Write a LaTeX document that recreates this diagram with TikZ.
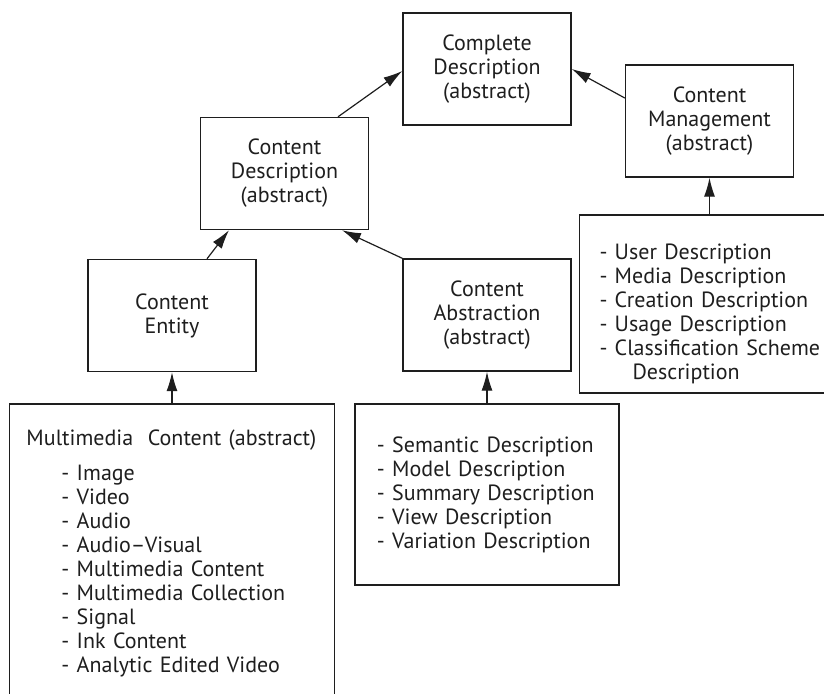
\documentclass[tikz,border=0pt]{standalone}
\usepackage{fontspec}
\setmainfont{PT Sans}
\usepackage{tikz}
\usetikzlibrary{shapes,arrows.meta,positioning}
\definecolor{inkgray}{RGB}{30,30,30}
\tikzstyle{block} = [rectangle, draw=inkgray, line width=0.7pt, text=inkgray,
    text width=76pt, align=center, minimum width=84pt, minimum height=56pt,
    font=\fontsize{11}{12}\selectfont]
\tikzstyle{listbox} = [rectangle, draw=inkgray, line width=0.7pt, text=inkgray,
    align=left, font=\fontsize{11}{12}\selectfont]
\tikzstyle{arrow} = [draw=inkgray, line width=0.6pt, ->]

\begin{document}
\begin{tikzpicture}[on grid, auto, >={Latex[length=9.5pt,width=5.5pt]}]
    \useasboundingbox (-243.5pt,34.5pt) rectangle (168.5pt,-312pt);
    \node[block] (complete) {Complete\\Description\\(abstract)};
    \node[block, below right=26pt and 111.25pt of complete] (manage) {Content\\Management\\(abstract)};
    \node[block, below left=52.25pt and 101.25pt of complete] (cdesc) {Content\\Description\\(abstract)};
    \node[block, below left=71pt and 56.25pt of cdesc] (entity) {Content\\Entity};
    \node[block, below=123pt of complete] (abstr) {Content\\Abstraction\\(abstract)};

    \node[listbox, below=119pt of entity, text width=145.5pt, inner xsep=8.5pt,
        minimum height=149.5pt] (mmlist) {Multimedia~~Content (abstract)\\[5.5pt]
        \hspace*{17.5pt}- Image\\
        \hspace*{17.5pt}- Video\\
        \hspace*{17.5pt}- Audio\\
        \hspace*{17.5pt}- Audio--Visual\\
        \hspace*{17.5pt}- Multimedia Content\\
        \hspace*{17.5pt}- Multimedia Collection\\
        \hspace*{17.5pt}- Signal\\
        \hspace*{17.5pt}- Ink Content\\
        \hspace*{17.5pt}- Analytic Edited Video};
    \node[listbox, below=89.75pt of abstr, text width=110pt, inner xsep=11pt,
        minimum height=90.5pt] (abslist) {- Semantic Description\\
        - Model Description\\
        - Summary Description\\
        - View Description\\
        - Variation Description};
    \node[listbox, below=91.5pt of manage, text width=110pt, inner xsep=10pt,
        minimum height=89pt] (mgmtlist) {\rule{0pt}{18pt}- User Description\\
        - Media Description\\
        - Creation Description\\
        - Usage Description\\
        \mbox{- Classification Scheme}\\
        \hspace*{16.5pt}Description};

    \path[arrow] ([xshift=26.75pt]cdesc.north) -- ([yshift=-1pt]complete.west);
    \path[arrow] ([yshift=11.5pt]manage.west) -- (complete.east);
    \path[arrow] ([xshift=17.5pt]entity.north) -- ([xshift=-27.75pt]cdesc.south);
    \path[arrow] (abstr.north west) -- ([xshift=28.75pt]cdesc.south);
    \path[arrow] (mmlist.north) -- (entity.south);
    \path[arrow] (abslist.north) -- (abstr.south);
    \path[arrow] (mgmtlist.north) -- (manage.south);
\end{tikzpicture}
\end{document}
